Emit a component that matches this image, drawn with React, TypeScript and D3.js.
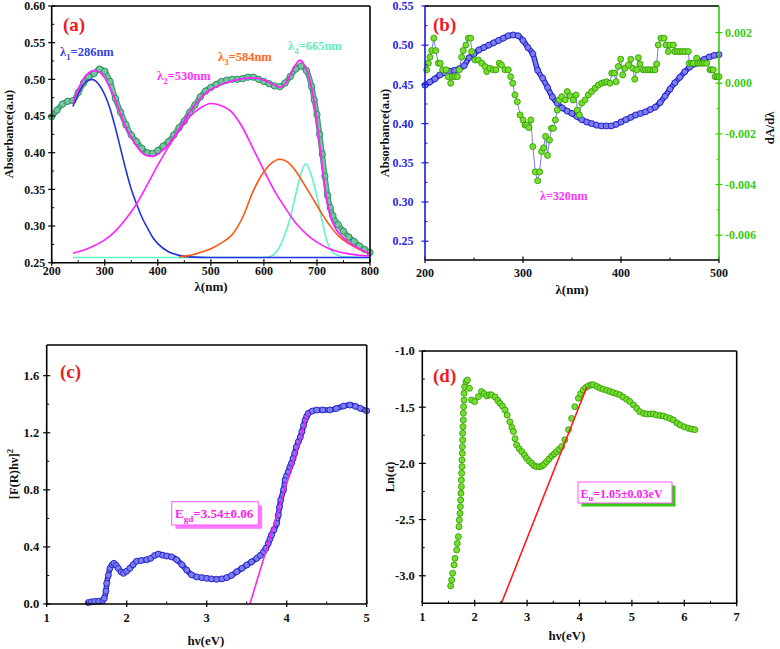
import React, { useRef, useEffect } from 'react';
import * as d3 from 'd3';

const FONT = '"Liberation Serif", "Times New Roman", serif';

// ---------- panel (a): deconvoluted absorbance ----------
const aDataWave = [200, 210, 220, 230, 240, 250, 260, 270, 280, 290, 300, 310, 320, 330, 340, 350, 360, 370, 380, 390, 400, 410, 420, 430, 440, 450, 460, 470, 480, 490, 500, 510, 520, 530, 540, 550, 560, 570, 580, 590, 600, 610, 620, 630, 640, 650, 660, 670, 680, 690, 695, 700, 705, 710, 715, 720, 725, 730, 740, 750, 760, 770, 780, 790, 800];
const aDataAbs = [0.449, 0.458, 0.466, 0.470, 0.471, 0.482, 0.495, 0.503, 0.508, 0.514, 0.511, 0.497, 0.474, 0.455, 0.438, 0.424, 0.415, 0.406, 0.400, 0.399, 0.403, 0.409, 0.415, 0.424, 0.434, 0.443, 0.455, 0.465, 0.476, 0.484, 0.489, 0.493, 0.497, 0.499, 0.500, 0.500, 0.501, 0.503, 0.503, 0.500, 0.497, 0.494, 0.491, 0.490, 0.495, 0.504, 0.514, 0.518, 0.512, 0.490, 0.472, 0.452, 0.425, 0.398, 0.368, 0.342, 0.325, 0.314, 0.302, 0.293, 0.285, 0.279, 0.273, 0.268, 0.264];

const aFitWave = [240, 250, 260, 270, 280, 290, 300, 310, 320, 330, 340, 350, 360, 370, 380, 390, 400, 410, 420, 430, 440, 450, 460, 470, 480, 490, 500, 520, 540, 560, 580, 600, 620, 630, 640, 650, 660, 668, 675, 685, 695, 705, 715, 725, 735, 750, 765, 780, 800];
const aFitAbs = [0.467, 0.486, 0.501, 0.509, 0.512, 0.510, 0.502, 0.488, 0.472, 0.452, 0.434, 0.421, 0.409, 0.400, 0.396, 0.395, 0.398, 0.404, 0.411, 0.421, 0.432, 0.444, 0.455, 0.465, 0.474, 0.481, 0.486, 0.493, 0.498, 0.501, 0.502, 0.499, 0.492, 0.489, 0.494, 0.506, 0.520, 0.526, 0.521, 0.503, 0.468, 0.412, 0.352, 0.314, 0.297, 0.284, 0.275, 0.269, 0.262];

const aPeak1Wave = [240, 250, 260, 270, 275, 280, 290, 300, 310, 320, 330, 340, 350, 360, 370, 380, 390, 400, 420, 440, 460, 500, 800];
const aPeak1Abs = [0.463, 0.480, 0.493, 0.499, 0.500, 0.499, 0.492, 0.479, 0.460, 0.434, 0.405, 0.376, 0.350, 0.330, 0.312, 0.298, 0.285, 0.276, 0.265, 0.260, 0.258, 0.257, 0.257];

const aPeak2Wave = [240, 260, 280, 300, 320, 340, 360, 380, 400, 420, 440, 460, 480, 500, 520, 540, 560, 580, 600, 620, 640, 660, 680, 700, 720, 740, 760, 780, 800];
const aPeak2Abs = [0.263, 0.267, 0.273, 0.281, 0.293, 0.310, 0.330, 0.356, 0.383, 0.408, 0.430, 0.449, 0.461, 0.467, 0.464, 0.455, 0.434, 0.405, 0.376, 0.348, 0.325, 0.304, 0.289, 0.278, 0.270, 0.265, 0.262, 0.260, 0.259];

const aPeak3Wave = [440, 460, 480, 500, 520, 540, 560, 580, 600, 615, 630, 645, 660, 680, 700, 720, 740, 760, 780, 800];
const aPeak3Abs = [0.258, 0.260, 0.264, 0.269, 0.277, 0.288, 0.312, 0.348, 0.374, 0.386, 0.391, 0.387, 0.375, 0.352, 0.328, 0.305, 0.287, 0.276, 0.268, 0.263];

const aPeak4Wave = [240, 600, 610, 620, 630, 640, 650, 660, 670, 679, 690, 700, 710, 720, 730, 740, 750, 800];
const aPeak4Abs = [0.257, 0.257, 0.258, 0.262, 0.272, 0.289, 0.312, 0.343, 0.372, 0.385, 0.368, 0.340, 0.306, 0.277, 0.264, 0.260, 0.258, 0.257];

const aXTicks = [200, 300, 400, 500, 600, 700, 800];
const aYTicks = [0.25, 0.30, 0.35, 0.40, 0.45, 0.50, 0.55, 0.60];

// ---------- panel (b): absorbance and its derivative ----------
const bAbsWave = [200, 205, 210, 215, 220, 225, 230, 235, 240, 245, 250, 255, 260, 265, 270, 275, 280, 285, 290, 295, 300, 305, 310, 315, 320, 325, 330, 335, 340, 345, 350, 355, 360, 365, 370, 375, 380, 385, 390, 395, 400, 405, 410, 415, 420, 425, 430, 435, 440, 445, 450, 455, 460, 465, 470, 475, 480, 485, 490, 495, 500];
const bAbs = [0.449, 0.453, 0.457, 0.462, 0.465, 0.467, 0.468, 0.470, 0.474, 0.484, 0.489, 0.494, 0.497, 0.500, 0.503, 0.506, 0.509, 0.512, 0.513, 0.512, 0.506, 0.497, 0.489, 0.468, 0.458, 0.446, 0.434, 0.426, 0.420, 0.416, 0.413, 0.409, 0.405, 0.402, 0.400, 0.398, 0.397, 0.397, 0.397, 0.399, 0.402, 0.405, 0.408, 0.411, 0.413, 0.415, 0.418, 0.421, 0.427, 0.435, 0.444, 0.452, 0.459, 0.466, 0.472, 0.476, 0.479, 0.482, 0.485, 0.487, 0.488];

const bDerWave = [201.7, 203.4, 205, 206.8, 209, 211, 213.6, 215.5, 218, 221.4, 223.8, 226.2, 228, 230.6, 233, 235, 237.4, 239, 241.8, 244.2, 246.6, 247.6, 251, 254.4, 257.9, 261.2, 263, 266.3, 269.7, 272.4, 275.8, 278, 281.6, 285, 287.4, 289.5, 291.8, 294.2, 297, 300, 302, 304, 306, 308, 310, 312.5, 315, 317, 319, 321, 323, 325, 327, 329, 331, 333, 335, 337, 339.5, 343, 345.2, 348, 351.3, 354, 355.4, 357.5, 359.9, 363.3, 366.6, 370, 373.5, 376.8, 380.3, 383, 385.4, 388.8, 390.5, 393, 395, 397.2, 399.7, 401.7, 404, 407.5, 410, 412, 414, 416, 417.7, 419.4, 422.7, 425, 427.5, 430, 432.5, 434.6, 436.4, 438, 440.8, 443.9, 446, 448.3, 450, 453.4, 455, 457.5, 460.2, 462.7, 465.3, 468.7, 469.7, 472, 473.8, 477.2, 478.5, 480.6, 483, 485, 487.4, 490.8, 492.5, 494.2, 496, 498.3, 500];
const bDer = [0.00053, 0.00079, 0.00103, 0.00129, 0.00178, 0.00129, 0.00079, 0.00079, 0.00053, 0.00053, 0.00026, 0, 0.00026, 0.00026, 0.00026, 0.00053, 0.00103, 0.00129, 0.00151, 0.00178, 0.00178, 0.00125, 0.00092, 0.00092, 0.00079, 0.00066, 0.00046, 0.00059, 0.00053, 0.00053, 0.00079, 0.00072, 0.00053, 0.00053, 0.00026, 0, -0.00046, -0.00073, -0.00125, -0.00145, -0.00165, -0.00165, -0.00175, -0.00145, -0.0025, -0.0035, -0.00385, -0.0035, -0.0027, -0.00255, -0.0021, -0.00285, -0.00225, -0.00178, -0.00178, -0.00145, -0.00106, -0.00066, -0.00053, -0.00066, -0.00033, -0.0005, -0.00066, -0.00046, -0.00106, -0.00125, -0.00079, -0.00066, -0.00046, -0.00033, -0.0002, -0.00007, 0, 0.00003, 0.00006, 0, 0.0004, 0.0004, 0.00006, 0.00066, 0.00095, 0.00033, 0.00059, 0.00072, 0.00095, 0.00059, 0.00016, 0.00053, 0.00101, 0.00076, 0.00053, 0.00053, 0.00053, 0.00053, 0.00053, 0.00053, 0.00076, 0.00151, 0.00178, 0.00178, 0.00151, 0.00125, 0.00151, 0.00151, 0.00125, 0.00125, 0.00125, 0.00125, 0.00125, 0.00125, 0.00079, 0.00079, 0.00079, 0.00099, 0.00079, 0.00079, 0.00079, 0.00079, 0.00079, 0.00053, 0.00053, 0.00053, 0.00026, 0.00026, 0.00026];

const bXTicks = [200, 300, 400, 500];
const bYTicks = [0.25, 0.30, 0.35, 0.40, 0.45, 0.50, 0.55];
const bY2Ticks = [-0.006, -0.004, -0.002, 0.000, 0.002];

// ---------- panel (c): Tauc plot ----------
const cEnergy = [1.52, 1.56, 1.60, 1.65, 1.70, 1.72, 1.74, 1.75, 1.77, 1.79, 1.82, 1.84, 1.87, 1.895, 1.93, 1.96, 2.0, 2.04, 2.08, 2.125, 2.18, 2.25, 2.30, 2.35, 2.395, 2.45, 2.5, 2.56, 2.625, 2.69, 2.75, 2.81, 2.875, 2.94, 3.0, 3.06, 3.125, 3.19, 3.25, 3.31, 3.375, 3.44, 3.5, 3.56, 3.625, 3.67, 3.71, 3.74, 3.77, 3.79, 3.81, 3.84, 3.875, 3.895, 3.91, 3.925, 3.96, 3.98, 4.0, 4.02, 4.04, 4.06, 4.08, 4.10, 4.12, 4.145, 4.17, 4.19, 4.21, 4.23, 4.25, 4.27, 4.32, 4.375, 4.45, 4.54, 4.62, 4.71, 4.79, 4.86, 4.92, 5.0];
const cTauc = [0.01, 0.015, 0.018, 0.02, 0.025, 0.04, 0.09, 0.145, 0.2, 0.25, 0.275, 0.285, 0.27, 0.25, 0.225, 0.215, 0.23, 0.25, 0.275, 0.30, 0.305, 0.31, 0.32, 0.34, 0.35, 0.342, 0.336, 0.33, 0.31, 0.275, 0.238, 0.205, 0.19, 0.185, 0.18, 0.176, 0.173, 0.176, 0.185, 0.2, 0.226, 0.25, 0.273, 0.295, 0.32, 0.34, 0.366, 0.39, 0.425, 0.455, 0.483, 0.52, 0.565, 0.623, 0.68, 0.728, 0.80, 0.869, 0.9, 0.927, 0.96, 0.986, 1.02, 1.056, 1.1, 1.137, 1.17, 1.207, 1.25, 1.289, 1.315, 1.336, 1.352, 1.359, 1.36, 1.36, 1.37, 1.387, 1.394, 1.385, 1.371, 1.354];
const cFitEnergy = [3.54, 4.27];
const cFitTauc = [0, 1.347];
const cXTicks = [1, 2, 3, 4, 5];
const cYTicks = [0.0, 0.4, 0.8, 1.2, 1.6];

// ---------- panel (d): Urbach plot ----------
const dEnergy = [1.541, 1.560, 1.579, 1.605, 1.624, 1.656, 1.669, 1.688, 1.700, 1.707, 1.720, 1.726, 1.732, 1.738, 1.745, 1.745, 1.751, 1.757, 1.757, 1.764, 1.764, 1.770, 1.770, 1.776, 1.783, 1.783, 1.789, 1.796, 1.796, 1.808, 1.834, 1.860, 1.90, 1.94, 2.00, 2.07, 2.13, 2.18, 2.23, 2.28, 2.32, 2.39, 2.44, 2.48, 2.53, 2.58, 2.62, 2.67, 2.71, 2.74, 2.77, 2.80, 2.85, 2.90, 2.95, 2.99, 3.04, 3.09, 3.13, 3.18, 3.23, 3.28, 3.32, 3.37, 3.42, 3.47, 3.52, 3.565, 3.61, 3.66, 3.72, 3.79, 3.85, 3.91, 3.98, 4.02, 4.07, 4.12, 4.17, 4.22, 4.26, 4.33, 4.39, 4.45, 4.52, 4.58, 4.64, 4.71, 4.77, 4.83, 4.90, 4.96, 5.03, 5.09, 5.15, 5.22, 5.28, 5.35, 5.41, 5.47, 5.54, 5.60, 5.66, 5.73, 5.79, 5.86, 5.92, 6.00, 6.08, 6.14, 6.20];
const dLnAlpha = [-3.090, -3.037, -2.978, -2.904, -2.845, -2.771, -2.712, -2.652, -2.563, -2.504, -2.445, -2.385, -2.326, -2.266, -2.207, -2.148, -2.088, -2.029, -1.970, -1.910, -1.851, -1.792, -1.732, -1.673, -1.614, -1.554, -1.495, -1.436, -1.376, -1.317, -1.273, -1.258, -1.332, -1.436, -1.45, -1.406, -1.36, -1.38, -1.40, -1.39, -1.39, -1.41, -1.44, -1.465, -1.49, -1.525, -1.57, -1.629, -1.68, -1.717, -1.78, -1.836, -1.87, -1.896, -1.925, -1.955, -1.98, -2.0, -2.02, -2.03, -2.03, -2.025, -2.01, -1.985, -1.96, -1.934, -1.915, -1.896, -1.875, -1.85, -1.79, -1.70, -1.60, -1.495, -1.42, -1.38, -1.347, -1.325, -1.311, -1.302, -1.30, -1.315, -1.33, -1.34, -1.35, -1.36, -1.37, -1.38, -1.39, -1.41, -1.43, -1.45, -1.48, -1.51, -1.54, -1.555, -1.56, -1.56, -1.56, -1.57, -1.575, -1.578, -1.59, -1.60, -1.614, -1.64, -1.658, -1.675, -1.688, -1.695, -1.70];
const dFitEnergy = [2.51, 4.14];
const dFitLn = [-3.245, -1.32];
const dXTicks = [1, 2, 3, 4, 5, 6, 7];
const dYTicks = [-3.0, -2.5, -2.0, -1.5, -1.0];

function pairs(xs, ys) {
  return xs.map((x, i) => [x, ys[i]]);
}

// frame with ticks: major ticks cross the axis, minor ones sit inside
function drawFrame(svg, box, x, y, opt) {
  const g = svg.append('g');
  const col = opt.colors || {};
  const fs = opt.fontSize || 12;

  // x ticks
  const xStep = opt.xTicks[1] - opt.xTicks[0];
  opt.xTicks.forEach((v, i) => {
    const px = x(v);
    g.append('line').attr('x1', px).attr('x2', px)
      .attr('y1', box.bottom + 3).attr('y2', box.bottom - 3.5)
      .attr('stroke', '#000').attr('stroke-width', 1.2);
    if (i < opt.xTicks.length - 1) {
      const m = x(v + xStep / 2);
      g.append('line').attr('x1', m).attr('x2', m)
        .attr('y1', box.bottom).attr('y2', box.bottom - 2.5)
        .attr('stroke', '#000').attr('stroke-width', 1);
    }
    g.append('text').attr('x', px).attr('y', box.bottom + opt.xLabelDy)
      .attr('text-anchor', 'middle').attr('font-size', fs)
      .attr('font-weight', 'bold').attr('font-family', FONT)
      .attr('fill', '#111').text(opt.xFormat(v));
  });

  // y ticks
  const yStep = opt.yTicks[1] - opt.yTicks[0];
  opt.yTicks.forEach((v, i) => {
    const py = y(v);
    g.append('line').attr('x1', box.left - 3.5).attr('x2', box.left + 3.5)
      .attr('y1', py).attr('y2', py)
      .attr('stroke', col.left || '#000').attr('stroke-width', 1.2);
    if (i < opt.yTicks.length - 1) {
      const m = y(v + yStep / 2);
      g.append('line').attr('x1', box.left).attr('x2', box.left + 2.5)
        .attr('y1', m).attr('y2', m)
        .attr('stroke', col.left || '#000').attr('stroke-width', 1);
    }
    g.append('text').attr('x', box.left - opt.yLabelDx).attr('y', py).attr('dy', '0.35em')
      .attr('text-anchor', 'end').attr('font-size', fs)
      .attr('font-weight', 'bold').attr('font-family', FONT)
      .attr('fill', col.leftText || '#111').text(opt.yFormat(v));
  });

  // border
  const sw = 1.6;
  g.append('line').attr('x1', box.left).attr('x2', box.right).attr('y1', box.top).attr('y2', box.top)
    .attr('stroke', col.top || '#000').attr('stroke-width', sw);
  g.append('line').attr('x1', box.right).attr('x2', box.right).attr('y1', box.top).attr('y2', box.bottom)
    .attr('stroke', col.right || '#000').attr('stroke-width', sw);
  g.append('line').attr('x1', box.left).attr('x2', box.right).attr('y1', box.bottom).attr('y2', box.bottom)
    .attr('stroke', col.bottom || '#000').attr('stroke-width', sw);
  g.append('line').attr('x1', box.left).attr('x2', box.left).attr('y1', box.top).attr('y2', box.bottom)
    .attr('stroke', col.left || '#000').attr('stroke-width', sw);
}

function boldText(g, x, y, txt, size, color, anchor = 'start') {
  return g.append('text').attr('x', x).attr('y', y)
    .attr('font-family', FONT).attr('font-weight', 'bold')
    .attr('font-size', size).attr('fill', color).attr('text-anchor', anchor).text(txt);
}

// text with a subscript in the middle: main + sub + rest
function subText(g, x, y, main, sub, rest, size, color) {
  const t = g.append('text').attr('x', x).attr('y', y)
    .attr('font-family', FONT).attr('font-weight', 'bold')
    .attr('font-size', size).attr('fill', color);
  t.append('tspan').text(main);
  t.append('tspan').attr('font-size', size * 0.7).attr('dy', size * 0.28).text(sub);
  t.append('tspan').attr('dy', -size * 0.28).text(rest);
  return t;
}

function rotTitle(g, x, y, txt, size, color) {
  return g.append('text').attr('transform', `translate(${x},${y}) rotate(-90)`)
    .attr('text-anchor', 'middle').attr('font-family', FONT).attr('font-weight', 'bold')
    .attr('font-size', size).attr('fill', color).text(txt);
}

function dots(g, data, x, y, r, fill, stroke) {
  g.append('g').selectAll('circle').data(data).enter().append('circle')
    .attr('cx', d => x(d[0])).attr('cy', d => y(d[1])).attr('r', r)
    .attr('fill', fill).attr('stroke', stroke).attr('stroke-width', 0.9);
}

function curve(g, data, x, y, color, width, smooth = true) {
  const line = d3.line().x(d => x(d[0])).y(d => y(d[1]));
  if (smooth) line.curve(d3.curveMonotoneX);
  g.append('path').datum(data).attr('d', line)
    .attr('fill', 'none').attr('stroke', color).attr('stroke-width', width)
    .attr('stroke-linejoin', 'round');
}

function App() {
  const svgRef = useRef(null);

  useEffect(() => {
    const svg = d3.select(svgRef.current);
    svg.selectAll('*').remove();

    // ----- (a) -----
    const boxA = { left: 51.7, right: 370, top: 6, bottom: 262.7 };
    const xA = d3.scaleLinear().domain([200, 800]).range([boxA.left, boxA.right]);
    const yA = d3.scaleLinear().domain([0.25, 0.60]).range([boxA.bottom, boxA.top]);
    const gA = svg.append('g');
    const aData = pairs(aDataWave, aDataAbs);
    curve(gA, aData, xA, yA, '#3d9f72', 5.5);
    curve(gA, aData, xA, yA, '#74c79c', 3);
    dots(gA, aData, xA, yA, 3.2, '#74c79c', '#2a8a5a');
    curve(gA, pairs(aPeak4Wave, aPeak4Abs), xA, yA, '#5ef5c8', 1.6);
    curve(gA, pairs(aPeak1Wave, aPeak1Abs), xA, yA, '#2233dd', 1.6);
    curve(gA, pairs(aPeak2Wave, aPeak2Abs), xA, yA, '#ff22ff', 1.6);
    curve(gA, pairs(aPeak3Wave, aPeak3Abs), xA, yA, '#ff5511', 1.6);
    curve(gA, pairs(aFitWave, aFitAbs), xA, yA, '#ff22ff', 1.8);
    drawFrame(svg, boxA, xA, yA, {
      xTicks: aXTicks, yTicks: aYTicks, xLabelDy: 12.5, yLabelDx: 6.5,
      xFormat: d3.format('d'), yFormat: d3.format('.2f'),
    });
    boldText(svg, 63, 31, '(a)', 19, '#ee1c25');
    subText(svg, 60, 56, 'λ', '1', '=286nm', 12.5, '#3344dd');
    subText(svg, 157, 80, 'λ', '2', '=530nm', 12.5, '#ff33ff');
    subText(svg, 218, 61, 'λ', '3', '=584nm', 12.5, '#ff6a22');
    subText(svg, 288, 50, 'λ', '4', '=665nm', 12.5, '#5eeec0');
    boldText(svg, 211, 291, 'λ(nm)', 13, '#111', 'middle');
    rotTitle(svg, 13, 134, 'Absorbance(a.u)', 12.5, '#111');

    // ----- (b) -----
    const boxB = { left: 425, right: 719, top: 6, bottom: 260 };
    const xB = d3.scaleLinear().domain([200, 500]).range([boxB.left, boxB.right]);
    const yB = d3.scaleLinear().domain([0.226, 0.55]).range([boxB.bottom, boxB.top]);
    const yB2 = d3.scaleLinear().domain([-0.00698, 0.00305]).range([boxB.bottom, boxB.top]);
    const gB = svg.append('g');
    const bData = pairs(bAbsWave, bAbs);
    curve(gB, bData, xB, yB, '#2626cc', 5.5);
    curve(gB, bData, xB, yB, '#7d7df2', 3);
    dots(gB, bData, xB, yB, 3, '#7d7df2', '#1f1fc4');
    const bDerData = pairs(bDerWave, bDer);
    curve(gB, bDerData, xB, yB2, '#5b5be6', 0.8, false);
    dots(gB, bDerData, xB, yB2, 3, '#77dd33', '#33a000');
    drawFrame(svg, boxB, xB, yB, {
      xTicks: bXTicks, yTicks: bYTicks, xLabelDy: 17, yLabelDx: 11.5,
      xFormat: d3.format('d'), yFormat: d3.format('.2f'),
      colors: { left: '#1a1add', leftText: '#2a2ae0', right: '#33cc00' },
    });
    // right axis
    const gR = svg.append('g');
    bY2Ticks.forEach((v, i) => {
      const py = yB2(v);
      gR.append('line').attr('x1', boxB.right - 3.5).attr('x2', boxB.right + 3.5)
        .attr('y1', py).attr('y2', py).attr('stroke', '#33cc00').attr('stroke-width', 1.2);
      if (i < bY2Ticks.length - 1) {
        const m = yB2(v + 0.001);
        gR.append('line').attr('x1', boxB.right - 2.5).attr('x2', boxB.right)
          .attr('y1', m).attr('y2', m).attr('stroke', '#33cc00').attr('stroke-width', 1);
      }
      gR.append('text').attr('x', boxB.right + 6).attr('y', py).attr('dy', '0.35em')
        .attr('font-family', FONT).attr('font-weight', 'bold').attr('font-size', 12)
        .attr('fill', '#3cc814').text(d3.format('.3f')(v).replace('−', '-'));
    });
    boldText(svg, 433, 31, '(b)', 19, '#ee1c25');
    boldText(svg, 540, 200, 'λ=320nm', 12, '#ff33ff');
    boldText(svg, 572, 294, 'λ(nm)', 13, '#111', 'middle');
    rotTitle(svg, 389, 133, 'Absorbance(a.u)', 12.5, '#111');
    rotTitle(svg, 774, 128, 'dA/dλ', 12.5, '#111');

    // ----- (c) -----
    const boxC = { left: 46.7, right: 366.7, top: 345, bottom: 604 };
    const xC = d3.scaleLinear().domain([1, 5]).range([boxC.left, boxC.right]);
    const yC = d3.scaleLinear().domain([0, 1.815]).range([boxC.bottom, boxC.top]);
    const gC = svg.append('g');
    const cData = pairs(cEnergy, cTauc);
    curve(gC, cData, xC, yC, '#2626cc', 5.5);
    curve(gC, cData, xC, yC, '#7d7df2', 3);
    dots(gC, cData, xC, yC, 3, '#7d7df2', '#1f1fc4');
    curve(gC, pairs(cFitEnergy, cFitTauc), xC, yC, '#ff22ee', 1.6, false);
    drawFrame(svg, boxC, xC, yC, {
      xTicks: cXTicks, yTicks: cYTicks, xLabelDy: 18, yLabelDx: 7.5, fontSize: 12.5,
      xFormat: d3.format('d'), yFormat: d3.format('.1f'),
    });
    boldText(svg, 60, 378, '(c)', 19, '#ee1c25');
    svg.append('rect').attr('x', 175.5).attr('y', 505.5).attr('width', 86.6).attr('height', 23.3)
      .attr('fill', '#ff77ff');
    svg.append('rect').attr('x', 171.7).attr('y', 501.7).attr('width', 86.6).attr('height', 23.3)
      .attr('fill', '#fff').attr('stroke', '#ff55ff').attr('stroke-width', 1);
    subText(svg, 175, 518, 'E', 'gd', '=3.54±0.06', 13, '#ff22ee');
    boldText(svg, 206, 645, 'hν(eV)', 13, '#111', 'middle');
    const yt = svg.append('text').attr('transform', 'translate(18,474) rotate(-90)')
      .attr('text-anchor', 'middle').attr('font-family', FONT).attr('font-weight', 'bold')
      .attr('font-size', 12.5).attr('fill', '#111');
    yt.append('tspan').text('[F(R)hν]');
    yt.append('tspan').attr('font-size', 9).attr('dy', -5).text('2');

    // ----- (d) -----
    const boxD = { left: 422.3, right: 736.7, top: 351, bottom: 603.3 };
    const xD = d3.scaleLinear().domain([1, 7]).range([boxD.left, boxD.right]);
    const yD = d3.scaleLinear().domain([-3.245, -1.0]).range([boxD.bottom, boxD.top]);
    const gD = svg.append('g');
    const dData = pairs(dEnergy, dLnAlpha);
    dots(gD, dData, xD, yD, 3, '#77dd33', '#33a000');
    curve(gD, pairs(dFitEnergy, dFitLn), xD, yD, '#ff1a1a', 1.6, false);
    drawFrame(svg, boxD, xD, yD, {
      xTicks: dXTicks, yTicks: dYTicks, xLabelDy: 18, yLabelDx: 7.5, fontSize: 12.5,
      xFormat: d3.format('d'), yFormat: v => d3.format('.1f')(v).replace('−', '-'),
    });
    boldText(svg, 433, 382, '(d)', 19, '#ee1c25');
    svg.append('rect').attr('x', 581.5).attr('y', 485.5).attr('width', 94).attr('height', 21)
      .attr('fill', '#33cc11');
    svg.append('rect').attr('x', 578).attr('y', 482).attr('width', 94).attr('height', 21)
      .attr('fill', '#fff').attr('stroke', '#ff55ff').attr('stroke-width', 1);
    subText(svg, 580.5, 497.5, 'E', 'u', '=1.05±0.03eV', 12, '#ff22ee');
    boldText(svg, 567, 640, 'hν(eV)', 13, '#111', 'middle');
    rotTitle(svg, 394, 477, 'Ln(α)', 12.5, '#111');
  }, []);

  return (
    <svg
      ref={svgRef}
      width={780}
      height={649}
      style={{ position: 'absolute', left: 0, top: 0, background: '#fff' }}
    />
  );
}

export default App;
